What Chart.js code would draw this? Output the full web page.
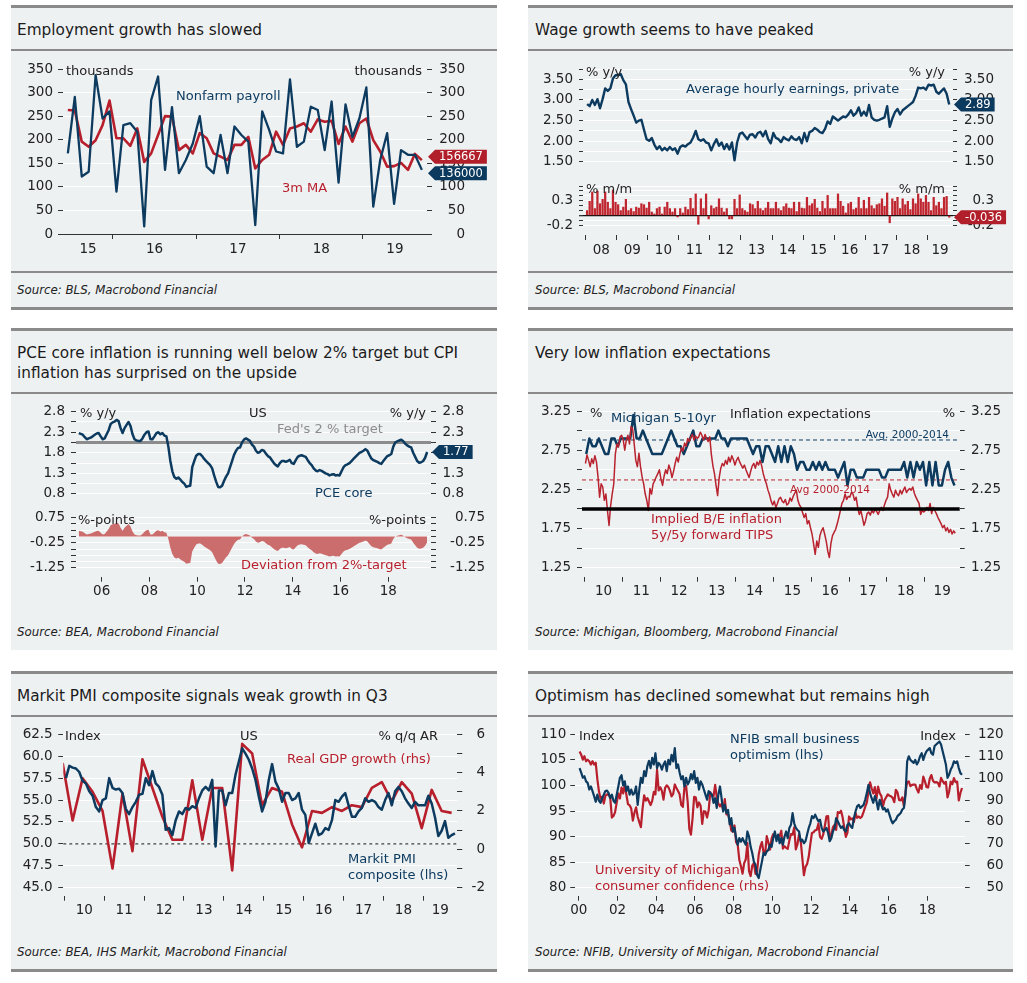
<!DOCTYPE html>
<html>
<head>
<meta charset="utf-8">
<script src="https://cdn.jsdelivr.net/npm/chart.js@4.4.0/dist/chart.umd.min.js"></script>
<style>
body { margin: 0; width: 1027px; height: 983px; background: #fff; position: relative; overflow: hidden; font-family: 'DejaVu Sans', sans-serif; }
.panel { position: absolute; background: #eef1f2; }
.rule { position: absolute; background: #8a8a8a; }
.title { position: absolute; font-size: 15.3px; line-height: 20px; color: #1b1b1b; }
.src { position: absolute; font-size: 11.8px; font-style: italic; color: #222; transform: translateY(-50%); }
canvas { position: absolute; z-index: 1; }
.note { position: absolute; z-index: 3; font-size: 13px; line-height: 15px; white-space: nowrap; transform: translateY(-50%); }
.note.r { transform: translate(-100%, -50%); }
</style>
</head>
<body>

<!-- panel backgrounds and rules -->
<div class="panel" style="left:11px;top:5px;width:486px;height:304px"></div>
<div class="panel" style="left:528px;top:5px;width:485px;height:304px"></div>
<div class="panel" style="left:11px;top:328px;width:486px;height:322px"></div>
<div class="panel" style="left:528px;top:328px;width:485px;height:322px"></div>
<div class="panel" style="left:11px;top:671px;width:486px;height:300px"></div>
<div class="panel" style="left:528px;top:671px;width:485px;height:300px"></div>

<div class="rule" style="left:11px;top:5px;width:486px;height:3px"></div>
<div class="rule" style="left:528px;top:5px;width:485px;height:3px"></div>
<div class="rule" style="left:11px;top:49px;width:486px;height:2px"></div>
<div class="rule" style="left:528px;top:49px;width:485px;height:2px"></div>
<div class="rule" style="left:11px;top:271px;width:486px;height:2px"></div>
<div class="rule" style="left:528px;top:271px;width:485px;height:2px"></div>
<div class="rule" style="left:11px;top:307px;width:486px;height:3px"></div>
<div class="rule" style="left:528px;top:307px;width:485px;height:3px"></div>

<div class="rule" style="left:11px;top:328px;width:486px;height:3px"></div>
<div class="rule" style="left:528px;top:328px;width:485px;height:3px"></div>
<div class="rule" style="left:11px;top:392px;width:486px;height:2px"></div>
<div class="rule" style="left:528px;top:392px;width:485px;height:2px"></div>

<div class="rule" style="left:11px;top:671px;width:486px;height:3px"></div>
<div class="rule" style="left:528px;top:671px;width:485px;height:3px"></div>
<div class="rule" style="left:11px;top:715px;width:486px;height:2px"></div>
<div class="rule" style="left:528px;top:715px;width:485px;height:2px"></div>
<div class="rule" style="left:11px;top:969px;width:486px;height:3px"></div>
<div class="rule" style="left:528px;top:969px;width:485px;height:3px"></div>

<div class="title" style="left:17px;top:20px">Employment growth has slowed</div>
<div class="title" style="left:535px;top:20px">Wage growth seems to have peaked</div>
<div class="title" style="left:17px;top:343px">PCE core inflation is running well below 2% target but CPI<br>inflation has surprised on the upside</div>
<div class="title" style="left:535px;top:343px">Very low inflation expectations</div>
<div class="title" style="left:17px;top:686px">Markit PMI composite signals weak growth in Q3</div>
<div class="title" style="left:535px;top:686px">Optimism has declined somewhat but remains high</div>

<div class="src" style="left:17px;top:290px">Source: BLS, Macrobond Financial</div>
<div class="src" style="left:535px;top:290px">Source: BLS, Macrobond Financial</div>
<div class="src" style="left:17px;top:632px">Source: BEA, Macrobond Financial</div>
<div class="src" style="left:535px;top:632px">Source: Michigan, Bloomberg, Macrobond Financial</div>
<div class="src" style="left:17px;top:952px">Source: BEA, IHS Markit, Macrobond Financial</div>
<div class="src" style="left:535px;top:952px">Source: NFIB, University of Michigan, Macrobond Financial</div>

<script>
// ---------- data ----------
// Nonfarm payrolls, thousands, monthly Jun 2015 - Sep 2019
const payrollStart = 2015 + 5 / 12;
const payrolls = [171, 291, 122, 132, 337, 245, 260,
  90, 231, 235, 217, 16, 284, 334, 136, 269, 129, 157, 192,
  250, 143, 129, 210, 129, 228, 210, 196, 19, 260, 221, 175,
  171, 328, 185, 196, 270, 263, 178, 281, 109, 275, 206, 245,
  311, 58, 157, 214, 64, 178, 168, 168, 136];
const payrolls3mMA = [263, 262, 196, 185, 199, 231, 283,
  203, 203, 187, 224, 153, 171, 210, 250, 249, 178, 189, 171,
  214, 203, 171, 164, 157, 189, 189, 206, 139, 157, 168, 217,
  189, 224, 228, 235, 217, 243, 238, 240, 191, 228, 196, 235,
  245, 199, 175, 143, 144, 151, 136, 170, 156.667];
const payrollTicks = [0, 50, 100, 150, 200, 250, 300, 350];

// Average hourly earnings, private, Jan 2008 - Sep 2019
const wageStart = 2008;
const wageYoY = [2.90, 2.85, 3.00, 2.88, 3.02, 2.80, 3.02, 3.28, 3.22, 3.28, 3.52, 3.60,
  3.60, 3.63, 3.48, 3.38, 2.95, 2.78, 2.62, 2.45, 2.50, 2.52, 2.28, 2.05,
  2.01, 2.08, 1.92, 1.81, 1.88, 1.78, 1.84, 1.78, 1.86, 1.79, 1.83, 1.70,
  1.86, 1.90, 1.87, 1.93, 1.97, 2.09, 2.25, 2.05, 2.01, 2.05, 1.97, 1.95,
  1.78, 1.93, 2.05, 1.89, 1.97, 1.81, 1.93, 1.80, 1.97, 1.54, 1.97, 2.18,
  2.21, 2.13, 2.05, 2.16, 2.17, 2.09, 2.20, 2.23, 2.12, 2.25, 2.05, 1.95,
  2.20, 2.08, 2.05, 1.98, 2.10, 2.05, 2.02, 2.12, 2.05, 2.03, 2.10, 1.95,
  2.20, 2.00, 2.22, 2.25, 2.32, 2.28, 2.22, 2.20, 2.30, 2.48, 2.42, 2.60,
  2.55, 2.50, 2.55, 2.60, 2.58, 2.65, 2.75, 2.62, 2.68, 2.82, 2.62, 2.72,
  2.62, 2.88, 2.58, 2.52, 2.50, 2.52, 2.55, 2.58, 2.85, 2.35, 2.55, 2.70,
  2.78, 2.65, 2.75, 2.80, 2.85, 2.90, 2.95, 3.10, 3.30, 3.28, 3.30, 3.25,
  3.37, 3.35, 3.37, 3.20, 3.15, 3.22, 3.28, 3.15, 2.89];
const wageMoM = [0.10, 0.29, 0.48, 0.14, 0.50, 0.24, 0.33, 0.48, 0.27, 0.14, 0.52, 0.27,
  0.22, 0.10, 0.17, 0.33, 0.10, 0.14, 0.08, 0.17, 0.15, 0.24, 0.22, 0.15,
  0.27, 0.07, 0.03, 0.14, 0.17, 0.03, 0.17, 0.27, 0.14, 0.07, 0.14, -0.03,
  0.14, 0.05, 0.17, 0.12, 0.35, 0.14, 0.44, -0.18, 0.34, 0.14, 0.44, -0.07,
  0.20, 0.14, 0.17, 0.34, 0.15, 0.07, 0.14, -0.07, -0.07, 0.33, 0.14, 0.42,
  0.14, 0.10, 0.07, 0.24, 0.22, 0.14, 0.29, 0.14, 0.10, 0.15, 0.27, 0.14,
  0.14, 0.27, 0.14, 0.10, 0.18, 0.24, 0.15, 0.14, 0.27, 0.08, 0.27, 0.15,
  0.14, 0.37, 0.20, 0.24, 0.33, 0.15, 0.08, 0.29, 0.14, 0.41, 0.14, 0.14,
  0.14, 0.44, 0.29, 0.19, 0.05, 0.24, 0.27, 0.12, 0.15, 0.37, 0.14, 0.31,
  0.14, 0.37, 0.20, 0.14, 0.22, 0.24, 0.34, 0.19, 0.46, -0.15, 0.34, 0.29,
  0.37, 0.14, 0.34, 0.22, 0.29, 0.12, 0.34, 0.24, 0.44, 0.34, 0.27, 0.41,
  0.27, 0.10, 0.37, 0.20, 0.27, 0.14, 0.37, 0.39, -0.036];
const wageTicks = [1.5, 1.75, 2, 2.25, 2.5, 2.75, 3, 3.25, 3.5, 3.75];
const wageLabels = [1.5, 2, 2.5, 3, 3.5];
const momTicks = [-0.2, -0.1, 0, 0.1, 0.2, 0.3, 0.4, 0.5, 0.6];
const momLabels = [-0.2, 0.3];

// PCE core, % y/y, Jan 2005 - Aug 2019
const pceStart = 2005;
const pceCore = [2.23, 2.21, 2.19, 2.13, 2.08, 2.10, 2.12, 2.15, 2.19, 2.22, 2.23, 2.15,
  2.08, 2.10, 2.20, 2.30, 2.45, 2.49, 2.51, 2.55, 2.52, 2.35, 2.23, 2.35,
  2.43, 2.50, 2.40, 2.20, 2.08, 2.05, 2.04, 2.04, 2.10, 2.19, 2.25, 2.27,
  2.08, 2.08, 2.15, 2.23, 2.25, 2.20, 2.23, 2.17, 2.15, 1.90, 1.55, 1.30,
  1.16, 1.12, 1.15, 1.10, 1.04, 1.00, 0.92, 0.94, 0.95, 1.40, 1.55, 1.68,
  1.72, 1.72, 1.67, 1.60, 1.55, 1.50, 1.45, 1.37, 1.20, 1.05, 0.92, 0.91,
  0.95, 1.07, 1.17, 1.25, 1.40, 1.55, 1.70, 1.80, 1.87, 1.88, 2.00, 2.07,
  2.10, 2.07, 2.04, 1.95, 1.90, 1.80, 1.75, 1.77, 1.82, 1.80, 1.73, 1.67,
  1.64, 1.57, 1.50, 1.45, 1.42, 1.50, 1.55, 1.55, 1.53, 1.55, 1.58, 1.50,
  1.48, 1.57, 1.65, 1.68, 1.69, 1.67, 1.65, 1.57, 1.50, 1.45, 1.37, 1.32,
  1.30, 1.33, 1.31, 1.28, 1.25, 1.23, 1.20, 1.22, 1.23, 1.20, 1.21, 1.20,
  1.30, 1.40, 1.45, 1.47, 1.50, 1.55, 1.60, 1.65, 1.70, 1.75, 1.77, 1.80,
  1.84, 1.80, 1.70, 1.61, 1.57, 1.55, 1.53, 1.50, 1.48, 1.55, 1.61, 1.67,
  1.69, 1.72, 1.90, 2.00, 2.03, 2.05, 2.07, 2.03, 1.97, 1.93, 1.90, 1.88,
  1.75, 1.65, 1.55, 1.51, 1.52, 1.55, 1.63, 1.77];
const fedTarget = 2;
const pceTicks = [0.75, 1, 1.25, 1.5, 1.75, 2, 2.25, 2.5, 2.75];
const pceLabels = [0.75, 1.25, 1.75, 2.25, 2.75];
const devTicks = [-1.25, -1, -0.75, -0.5, -0.25, 0, 0.25, 0.5, 0.75];
const devLabels = [-1.25, -0.25, 0.75];

// Michigan 5-10yr expectations, monthly Jan 2010 - Oct 2019
const inflStart = 2010;
const michigan5to10 = [2.7, 2.9, 2.8, 2.8, 2.9, 2.8, 2.7, 2.7, 2.9, 2.9, 2.8, 2.9,
  2.9, 2.9, 2.9, 3.2, 2.9, 2.9, 3.0, 2.9, 2.8, 2.7, 2.7, 2.7,
  2.7, 2.8, 2.9, 3.0, 2.9, 2.8, 2.8, 2.7, 2.8, 2.9, 3.0, 2.8,
  2.8, 2.9, 2.9, 2.9, 2.9, 2.9, 3.0, 2.9, 2.9, 2.8, 2.9, 2.9,
  2.9, 2.9, 2.9, 2.9, 2.8, 2.7, 2.8, 2.8, 2.6, 2.8, 2.8, 2.7,
  2.6, 2.8, 2.6, 2.8, 2.6, 2.8, 2.7, 2.5, 2.6, 2.6, 2.5, 2.5,
  2.6, 2.5, 2.6, 2.5, 2.6, 2.5, 2.5, 2.5, 2.4, 2.5, 2.6, 2.3,
  2.5, 2.5, 2.4, 2.4, 2.4, 2.5, 2.5, 2.5, 2.5, 2.5, 2.4, 2.4,
  2.5, 2.5, 2.5, 2.5, 2.5, 2.6, 2.4, 2.6, 2.4, 2.6, 2.5, 2.6,
  2.3, 2.6, 2.3, 2.6, 2.3, 2.3, 2.5, 2.6, 2.4, 2.3];
// 5y/5y forward breakeven, twice a month Jan 2010 - Oct 2019
const breakeven5y5y = [2.58, 2.69, 2.62, 2.54, 2.64, 2.58, 2.68, 2.60, 2.41, 2.15, 2.32, 2.28, 2.11, 2.19, 1.98, 1.79, 2.04, 2.19, 2.32, 2.70, 2.83, 2.79, 2.92, 2.94,
  2.88, 2.75, 2.88, 2.94, 2.83, 3.05, 3.02, 2.83, 2.62, 2.54, 2.71, 2.54, 2.41, 2.32, 2.19, 2.11, 1.98, 2.26, 2.19, 2.32, 2.36, 2.41, 2.45, 2.50,
  2.38, 2.30, 2.42, 2.50, 2.45, 2.56, 2.50, 2.40, 2.48, 2.58, 2.66, 2.60, 2.70, 2.78, 2.74, 2.84, 2.80, 2.90, 2.86, 2.92, 2.95, 2.88, 2.93, 2.90,
  2.92, 2.98, 2.94, 2.88, 2.95, 2.90, 2.86, 2.92, 2.70, 2.55, 2.45, 2.30, 2.17, 2.40, 2.52, 2.58, 2.55, 2.62, 2.57, 2.66, 2.60, 2.68, 2.63, 2.56,
  2.62, 2.66, 2.60, 2.56, 2.52, 2.56, 2.50, 2.45, 2.40, 2.48, 2.55, 2.58, 2.52, 2.60, 2.56, 2.62, 2.55, 2.45, 2.38, 2.32, 2.24, 2.18, 2.10, 2.05,
  2.10, 2.02, 2.07, 2.13, 2.15, 2.10, 2.08, 2.12, 2.05, 2.07, 2.14, 2.10, 2.16, 2.20, 2.24, 2.11, 2.05, 2.02, 1.95, 1.89, 1.94, 1.81, 1.85, 1.76,
  1.68, 1.55, 1.42, 1.59, 1.51, 1.66, 1.72, 1.76, 1.68, 1.59, 1.46, 1.38, 1.56, 1.66, 1.70, 1.74, 1.81, 1.89, 1.98, 2.07, 2.11, 2.19, 2.12, 2.16,
  2.15, 2.21, 2.19, 2.11, 2.15, 2.02, 1.93, 1.98, 1.89, 1.79, 1.85, 1.94, 1.96, 1.92, 1.98, 1.95, 1.99, 1.97, 1.93, 1.98, 2.02, 1.98, 2.05, 2.11,
  2.15, 2.32, 2.24, 2.19, 2.15, 2.24, 2.19, 2.17, 2.24, 2.19, 2.24, 2.28, 2.21, 2.24, 2.26, 2.24, 2.28, 2.20, 2.15, 2.11, 2.07, 1.93, 1.98, 1.96,
  1.98, 2.02, 1.98, 2.07, 1.94, 2.02, 1.98, 1.94, 1.89, 1.85, 1.81, 1.76, 1.79, 1.72, 1.76, 1.70, 1.74, 1.68, 1.72, 1.69];
const michiganAvg = 2.88;
const breakevenAvg = 2.37;
const inflTicks = [1.25, 1.5, 1.75, 2, 2.25, 2.5, 2.75, 3, 3.25];
const inflLabels = [1.25, 1.75, 2.25, 2.75, 3.25];

// Markit PMI composite, monthly Jan 2010 - Oct 2019; real GDP q/q AR, Q4 2009 - Q3 2019
const pmiStart = 2010;
const pmiComposite = [57.5, 58.9, 58.7, 58.6, 58.2, 57.2, 56.9, 56.0, 55.5, 54.2, 53.7, 55.0,
  55.2, 57.5, 56.4, 56.2, 56.3, 55.8, 54.0, 53.4, 54.2, 54.8, 55.6, 55.7,
  57.5, 56.7, 58.3, 56.9, 56.5, 55.6, 51.6, 51.8, 51.0, 52.7, 53.7, 53.4,
  54.1, 53.9, 54.3, 54.1, 55.2, 56.1, 56.5, 56.1, 57.3, 49.7, 56.1, 56.1,
  54.4, 55.8, 55.8, 57.9, 59.4, 60.9, 60.3, 59.6, 58.6, 57.3, 55.4, 53.7,
  54.8, 57.3, 59.1, 57.1, 56.3, 54.8, 55.8, 55.8, 55.0, 55.2, 55.8, 53.9,
  53.3, 50.1, 51.2, 52.3, 51.0, 51.2, 51.8, 51.6, 52.7, 55.0, 54.8, 55.4,
  55.8, 54.4, 53.1, 53.1, 53.7, 54.1, 55.2, 54.8, 55.0, 54.8, 54.2, 53.9,
  55.0, 55.8, 54.4, 56.0, 56.5, 56.0, 55.2, 54.6, 54.1, 54.8, 54.4, 54.4,
  54.4, 55.5, 54.6, 53.0, 50.9, 51.5, 52.6, 50.7, 51.0, 51.2];
const gdpStart = 2009 + 11.5 / 12;
const gdpGrowth = [4.5, 1.5, 3.7, 3.0, 2.0, -1.0, 2.9, -0.1, 4.7, 3.2, 1.7, 0.5, 0.5,
  3.6, 0.5, 3.2, 3.2, -1.1, 5.5, 5.0, 2.3, 3.2, 3.0, 1.3, 0.1, 2.0, 1.9, 2.2, 2.0,
  2.3, 2.2, 3.2, 3.5, 2.5, 3.5, 2.9, 1.1, 3.1, 2.0, 1.9];
const pmiNeutral = 50;
const pmiTicks = [45, 47.5, 50, 52.5, 55, 57.5, 60, 62.5];
const gdpTicks = [-2, -1, 0, 1, 2, 3, 4, 5, 6];
const gdpLabels = [-2, 0, 2, 4, 6];

// NFIB small business optimism and UMich sentiment, monthly Jan 2000 - Oct 2019
const optStart = 2000;
const nfib = [103.4, 102.5, 101.5, 101.8, 100.8, 100.5, 99.2, 99.8, 98.9, 97.9, 96.8, 98.2,
  97.0, 96.6, 97.5, 98.2, 98.9, 99.0, 98.5, 97.5, 98.2, 97.0, 96.6, 98.2,
  99.8, 101.5, 102.0, 100.0, 100.8, 98.9, 99.8, 98.2, 99.2, 98.2, 98.5, 99.8,
  96.2, 99.2, 101.5, 100.5, 102.8, 101.8, 103.8, 104.8, 103.4, 105.4, 104.1, 106.3,
  103.4, 104.4, 104.0, 103.1, 104.1, 104.7, 102.8, 105.0, 104.1, 106.0, 104.7, 107.3,
  103.4, 104.1, 102.5, 101.2, 101.8, 99.8, 101.5, 100.2, 100.8, 102.2, 101.2, 102.8,
  100.5, 101.5, 99.2, 100.8, 100.2, 99.2, 98.2, 97.2, 98.9, 98.5, 98.2, 96.6,
  97.5, 95.6, 98.2, 99.8, 97.5, 94.9, 96.2, 94.6, 95.2, 92.4, 93.6, 91.0,
  91.7, 89.7, 88.4, 89.7, 89.0, 89.7, 89.0, 88.4, 91.0, 90.0, 88.0, 86.8,
  85.1, 84.5, 82.5, 81.9, 83.5, 85.1, 86.8, 86.4, 87.1, 87.4, 88.4, 88.0,
  89.7, 91.0, 89.1, 90.4, 88.7, 89.7, 88.4, 90.0, 91.0, 89.7, 91.7, 92.3,
  94.6, 92.6, 91.7, 91.3, 91.0, 89.1, 89.4, 88.7, 89.1, 90.4, 91.7, 92.6,
  94.0, 93.6, 94.3, 93.6, 93.0, 93.3, 91.7, 91.0, 91.3, 91.7, 90.7, 89.1,
  89.7, 91.0, 91.7, 93.6, 93.0, 92.3, 91.7, 92.0, 91.3, 91.0, 92.3, 92.6,
  92.0, 91.7, 93.6, 94.9, 95.9, 96.2, 95.6, 95.9, 96.2, 97.2, 98.5, 100.1,
  98.5, 97.5, 96.6, 97.9, 96.9, 95.3, 97.2, 96.2, 95.3, 95.6, 94.9, 95.3,
  94.3, 93.3, 92.6, 93.0, 93.3, 94.0, 94.3, 94.6, 95.3, 95.6, 98.2, 104.7,
  105.7, 105.0, 104.7, 104.4, 105.0, 104.1, 104.7, 105.7, 106.3, 105.0, 106.0, 106.7,
  107.0, 107.3, 106.3, 106.0, 107.7, 108.0, 108.3, 108.6, 108.0, 106.7, 105.4, 104.1,
  101.5, 102.1, 103.1, 103.7, 104.7, 104.4, 104.7, 103.4, 102.4, 102.1];
const umich = [112.2, 110.7, 108.4, 110.0, 107.7, 108.4, 107.7, 106.2, 107.7, 106.2, 107.0, 99.5,
  94.0, 90.6, 91.5, 88.4, 92.0, 92.6, 92.4, 91.0, 82.0, 82.7, 84.5, 88.8,
  93.0, 90.7, 95.7, 93.0, 96.9, 92.4, 88.1, 87.6, 86.1, 80.6, 84.2, 86.7,
  82.4, 79.9, 77.6, 86.0, 92.1, 89.7, 90.9, 89.3, 87.7, 89.6, 93.7, 92.6,
  103.8, 94.4, 95.8, 94.2, 90.2, 95.6, 96.7, 95.9, 94.2, 91.7, 92.8, 97.1,
  95.5, 94.1, 92.6, 87.7, 86.9, 96.0, 96.5, 89.1, 76.9, 74.2, 81.6, 91.5,
  91.2, 86.7, 88.9, 87.4, 79.1, 84.9, 84.7, 82.0, 85.4, 93.6, 92.1, 91.7,
  96.9, 91.3, 88.4, 87.1, 88.3, 85.3, 90.4, 83.4, 83.4, 80.9, 76.1, 75.5,
  78.4, 70.8, 69.5, 62.6, 59.8, 56.4, 61.2, 63.0, 70.3, 57.6, 55.3, 60.1,
  61.2, 56.3, 57.3, 65.1, 68.7, 70.8, 66.0, 65.7, 73.5, 70.6, 67.4, 72.5,
  74.4, 73.6, 73.6, 72.2, 73.6, 76.0, 67.8, 68.9, 68.2, 67.7, 71.6, 74.5,
  74.2, 77.5, 67.5, 69.8, 74.3, 71.5, 63.7, 55.7, 59.5, 60.8, 64.1, 69.9,
  75.0, 75.3, 76.2, 76.4, 79.3, 73.2, 72.3, 74.3, 78.3, 82.6, 82.7, 72.9,
  73.8, 77.6, 78.6, 76.4, 84.5, 84.1, 85.1, 82.1, 77.5, 73.2, 75.1, 82.5,
  81.2, 81.6, 80.0, 84.1, 81.9, 82.5, 81.8, 82.5, 84.6, 86.9, 88.8, 93.6,
  98.1, 95.4, 93.0, 95.9, 90.7, 96.1, 93.1, 91.9, 87.2, 90.0, 91.3, 92.6,
  92.0, 91.7, 91.0, 89.0, 94.7, 93.5, 90.0, 89.8, 91.2, 87.2, 93.8, 98.2,
  98.5, 96.3, 96.9, 97.0, 97.1, 95.0, 93.4, 96.8, 95.1, 100.7, 98.5, 95.9,
  95.7, 99.7, 101.4, 98.8, 98.0, 98.2, 97.9, 96.2, 100.1, 98.6, 97.5, 98.3,
  91.2, 93.8, 98.4, 97.2, 100.0, 98.2, 98.4, 89.8, 93.2, 95.5];
const nfibTicks = [80, 85, 90, 95, 100, 105, 110];
const umichTicks = [50, 60, 70, 80, 90, 100, 110, 120];

// ---------- helpers ----------
const BLUE = '#0d3b60', RED = '#b71f2c', INK = '#222';

Chart.defaults.font.family = "'DejaVu Sans', sans-serif";
Chart.defaults.font.size = 13.5;
Chart.defaults.color = INK;
Chart.defaults.animation = false;
Chart.defaults.responsive = false;
Chart.defaults.plugins.legend.display = false;
Chart.defaults.plugins.tooltip.enabled = false;
Chart.defaults.elements.point.radius = 0;
Chart.defaults.elements.line.tension = 0;
Chart.defaults.elements.line.borderJoinStyle = 'round';

const monthly = (start, vals) => vals.map((v, i) => ({ x: start + (i + 0.5) / 12, y: v }));
const halfMonthly = (start, vals) => vals.map((v, i) => ({ x: start + (i + 0.5) / 24, y: v }));
const quarterly = (start, vals) => vals.map((v, i) => ({ x: start + i * 0.25, y: v }));
const labelled = (list, dec) => v => (list.includes(v) ? v.toFixed(dec) : '');

function makeCanvas(x, y, w, h) {
  const c = document.createElement('canvas');
  c.width = w; c.height = h;
  c.style.left = x + 'px'; c.style.top = y + 'px';
  document.body.appendChild(c);
  return c;
}

// year ticks: marks at year boundaries, labels centred on the visible part of each year
function yearTicks(min, max, mode) {
  const out = [];
  if (mode === 'even') {
    for (let y = Math.ceil(min); y <= max; y++) {
      if (y % 2 === 0) out.push({ value: y, mark: true, lab: String(y).slice(2) });
    }
    return out;
  }
  for (let y = Math.ceil(min); y <= max; y++) out.push({ value: y, mark: true, lab: '' });
  for (let y = Math.floor(min); y < max; y++) {
    const a = Math.max(y, min), b = Math.min(y + 1, max);
    if (b - a >= 0.4) out.push({ value: (a + b) / 2, mark: false, lab: String(y).slice(2) });
  }
  return out.sort((p, q) => p.value - q.value);
}

function xAxis(min, max, mode, height, border) {
  return {
    type: 'linear', min, max, offset: false,
    afterFit: s => { s.height = height; },
    afterBuildTicks: s => { s.ticks = yearTicks(min, max, mode); },
    border: border || { display: false },
    grid: {
      offset: false, drawOnChartArea: false, drawTicks: true, tickLength: 5,
      tickColor: c => (c.tick && c.tick.mark ? '#333' : 'rgba(0,0,0,0)')
    },
    ticks: { padding: 2, autoSkip: false, maxRotation: 0, callback: (v, i, t) => t[i].lab || '' }
  };
}

// right axes: labels are right-aligned to the outer edge of the axis box
function yAxis(o) {
  return {
    type: 'linear', position: o.pos || 'left', min: o.min, max: o.max,
    afterFit: s => { s.width = o.w; },
    afterBuildTicks: s => { s.ticks = o.ticks.map(v => ({ value: v })); },
    border: { display: false },
    grid: {
      drawOnChartArea: o.pos !== 'right', drawTicks: true, tickLength: o.tl || 5, tickColor: '#333',
      color: c => (o.gridColor ? o.gridColor(c.tick ? c.tick.value : null) : '#fff'),
      lineWidth: c => (o.zeroWidth && c.tick && c.tick.value === 0 ? o.zeroWidth : 1)
    },
    ticks: { padding: o.pad || 5, crossAlign: o.pos === 'right' ? 'far' : 'near', autoSkip: false, callback: o.fmt }
  };
}

function refLines(lines) {
  const draw = (chart, list) => {
    const ctx = chart.ctx, a = chart.chartArea;
    list.forEach(l => {
      const y = chart.scales[l.axis || 'y'].getPixelForValue(l.value);
      ctx.save();
      ctx.strokeStyle = l.color; ctx.lineWidth = l.width; ctx.setLineDash(l.dash || []);
      ctx.beginPath(); ctx.moveTo(a.left, y); ctx.lineTo(a.right, y); ctx.stroke();
      ctx.restore();
    });
  };
  return {
    id: 'refLines',
    beforeDatasetsDraw(chart) { draw(chart, lines.filter(l => !l.top)); },
    afterDatasetsDraw(chart) { draw(chart, lines.filter(l => l.top)); }
  };
}

// value tags at the right end of a series
function tags(list) {
  return {
    id: 'tags',
    afterDraw(chart) {
      const ctx = chart.ctx, area = chart.chartArea;
      const items = list.map(t => {
        const meta = chart.getDatasetMeta(t.ds);
        return { y: meta.data[meta.data.length - 1].y, t };
      });
      if (items.length === 2) {
        const gap = 16.5, d = Math.abs(items[0].y - items[1].y);
        if (d < gap) {
          const hi = items[0].y <= items[1].y ? 0 : 1, push = (gap - d) / 2;
          items[hi].y -= push; items[1 - hi].y += push;
        }
      }
      ctx.save();
      ctx.font = "11.5px 'DejaVu Sans'";
      items.forEach(({ y, t }) => {
        const tip = area.right + 1, x0 = tip + 7, h = 14;
        const w = ctx.measureText(t.text).width + 8;
        ctx.fillStyle = t.color;
        ctx.beginPath();
        ctx.moveTo(tip, y); ctx.lineTo(x0, y - h / 2); ctx.lineTo(x0 + w, y - h / 2);
        ctx.lineTo(x0 + w, y + h / 2); ctx.lineTo(x0, y + h / 2); ctx.closePath();
        ctx.fill();
        ctx.fillStyle = '#fff'; ctx.textAlign = 'left'; ctx.textBaseline = 'middle';
        ctx.fillText(t.text, x0 + 4, y + 0.5);
      });
      ctx.restore();
    }
  };
}

// ---------- 1. Employment ----------
new Chart(makeCanvas(11, 50, 486, 220), {
  type: 'line',
  data: { datasets: [
    { data: monthly(payrollStart, payrolls), borderColor: BLUE, borderWidth: 2.3 },
    { data: monthly(payrollStart, payrolls3mMA), borderColor: RED, borderWidth: 2.6 }
  ] },
  options: {
    layout: { padding: { top: 19, bottom: 0, left: 0, right: 32 } },
    scales: {
      x: xAxis(2015.40, 2019.77, 'mid', 36, { display: true, dash: [3, 2], color: '#333', width: 1 }),
      y: yAxis({ min: 0, max: 350, ticks: payrollTicks, fmt: v => String(v), w: 52, pad: 5,
        gridColor: v => (v === 0 ? 'rgba(0,0,0,0)' : '#fff') }),
      y2: yAxis({ pos: 'right', min: 0, max: 350, ticks: payrollTicks, fmt: v => String(v), w: 38 })
    }
  },
  plugins: [tags([
    { ds: 1, color: '#b01f2a', text: String(Math.round(payrolls3mMA[payrolls3mMA.length - 1] * 1000)) },
    { ds: 0, color: '#0b3a5e', text: String(Math.round(payrolls[payrolls.length - 1] * 1000)) }
  ])]
});

// ---------- 2. Wages ----------
new Chart(makeCanvas(528, 52, 485, 124), {
  type: 'line',
  data: { datasets: [{ data: monthly(wageStart, wageYoY), borderColor: BLUE, borderWidth: 2.4 }] },
  options: {
    layout: { padding: { top: 17, bottom: 12, left: 0, right: 19 } },
    scales: {
      x: { type: 'linear', min: 2007.91, max: 2019.83, display: false, offset: false },
      y: yAxis({ min: 1.5, max: 3.75, ticks: wageTicks, fmt: labelled(wageLabels, 2), w: 55, pad: 6, tl: 4 }),
      y2: yAxis({ pos: 'right', min: 1.5, max: 3.75, ticks: wageTicks, fmt: labelled(wageLabels, 2), w: 41, tl: 4 })
    }
  },
  plugins: [tags([{ ds: 0, color: '#0b3a5e', text: wageYoY[wageYoY.length - 1].toFixed(2) }])]
});

new Chart(makeCanvas(528, 172, 485, 96), {
  type: 'bar',
  data: { datasets: [{ data: monthly(wageStart, wageMoM), backgroundColor: '#c0262f', barThickness: 1.6 }] },
  options: {
    layout: { padding: { top: 14, bottom: 0, left: 0, right: 19 } },
    scales: {
      x: xAxis(2007.91, 2019.83, 'mid', 33),
      y: yAxis({ min: -0.4, max: 0.6, ticks: momTicks, fmt: labelled(momLabels, 1), w: 55, pad: 6, tl: 4,
        gridColor: v => (v === 0 ? '#111' : '#fff'), zeroWidth: 1.3 }),
      y2: yAxis({ pos: 'right', min: -0.4, max: 0.6, ticks: momTicks, fmt: labelled(momLabels, 1), w: 41, tl: 4 })
    }
  },
  plugins: [tags([{ ds: 0, color: '#b01f2a', text: wageMoM[wageMoM.length - 1].toFixed(3) }])]
});

// ---------- 3. PCE core ----------
const deviation = pceCore.map(v => +(v - fedTarget).toFixed(2));

new Chart(makeCanvas(11, 396, 486, 112), {
  type: 'line',
  data: { datasets: [{ data: monthly(pceStart, pceCore), borderColor: BLUE, borderWidth: 2.5 }] },
  options: {
    layout: { padding: { top: 15.7, bottom: 12.3, left: 0, right: 33 } },
    scales: {
      x: { type: 'linear', min: 2004.925, max: 2019.787, display: false, offset: false },
      y: yAxis({ min: 0.75, max: 2.75, ticks: pceTicks, fmt: labelled(pceLabels, 1), w: 65, pad: 6 }),
      y2: yAxis({ pos: 'right', min: 0.75, max: 2.75, ticks: pceTicks, fmt: labelled(pceLabels, 1), w: 33 })
    }
  },
  plugins: [
    refLines([{ value: fedTarget, color: '#8c8c8c', width: 3 }]),
    tags([{ ds: 0, color: '#0b3a5e', text: pceCore[pceCore.length - 1].toFixed(2) }])
  ]
});

new Chart(makeCanvas(11, 502, 486, 104), {
  type: 'line',
  data: { datasets: [{ data: monthly(pceStart, deviation), borderColor: 'rgba(0,0,0,0)', borderWidth: 0,
    fill: 'origin', backgroundColor: '#cc6d6d' }] },
  options: {
    layout: { padding: { top: 15.7, bottom: 0, left: 0, right: 12 } },
    scales: {
      x: xAxis(2004.925, 2019.787, 'even', 29.3),
      y: yAxis({ min: -1.6, max: 0.75, ticks: devTicks, fmt: labelled(devLabels, 2), w: 65, pad: 6 }),
      y2: yAxis({ pos: 'right', min: -1.6, max: 0.75, ticks: devTicks, fmt: labelled(devLabels, 2), w: 54 })
    }
  }
});

// ---------- 4. Inflation expectations ----------
new Chart(makeCanvas(528, 396, 485, 210), {
  type: 'line',
  data: { datasets: [
    { data: halfMonthly(inflStart, breakeven5y5y), borderColor: '#b8232f', borderWidth: 1.5 },
    { data: monthly(inflStart, michigan5to10), borderColor: BLUE, borderWidth: 2.5 }
  ] },
  options: {
    layout: { padding: { top: 15, bottom: 0, left: 0, right: 12 } },
    scales: {
      x: xAxis(2009.93, 2019.93, 'mid', 29.3),
      y: yAxis({ min: 1.135, max: 3.25, ticks: inflTicks, fmt: labelled(inflLabels, 2), w: 54, pad: 6 }),
      y2: yAxis({ pos: 'right', min: 1.135, max: 3.25, ticks: inflTicks, fmt: labelled(inflLabels, 2), w: 41.3 })
    }
  },
  plugins: [refLines([
    { value: michiganAvg, color: BLUE, width: 1, dash: [4, 3] },
    { value: breakevenAvg, color: '#b8232f', width: 1, dash: [4, 3] },
    { value: fedTarget, color: '#000', width: 3.5, top: true }
  ])]
});

// ---------- 5. PMI and GDP ----------
new Chart(makeCanvas(11, 718, 486, 206), {
  type: 'line',
  data: { datasets: [
    { data: monthly(pmiStart, pmiComposite), borderColor: BLUE, borderWidth: 2.5, yAxisID: 'y' },
    { data: quarterly(gdpStart, gdpGrowth), borderColor: RED, borderWidth: 2.6, yAxisID: 'y2' }
  ] },
  options: {
    layout: { padding: { top: 16.3, bottom: 0, left: 0, right: 12 } },
    scales: {
      x: xAxis(2009.975, 2019.85, 'mid', 28.3),
      y: yAxis({ min: 44.09, max: 62.5, ticks: pmiTicks, fmt: v => v.toFixed(1), w: 52.3, pad: 5.6 }),
      y2: yAxis({ pos: 'right', min: -2.42, max: 6, ticks: gdpTicks, fmt: labelled(gdpLabels, 0), w: 27.7 })
    }
  },
  plugins: [refLines([{ value: pmiNeutral, color: '#111', width: 1, dash: [3, 3] }])]
});

// ---------- 6. Optimism ----------
new Chart(makeCanvas(528, 718, 485, 206), {
  type: 'line',
  data: { datasets: [
    { data: monthly(optStart, nfib), borderColor: BLUE, borderWidth: 2.2, yAxisID: 'y' },
    { data: monthly(optStart, umich), borderColor: RED, borderWidth: 2.2, yAxisID: 'y2' }
  ] },
  options: {
    layout: { padding: { top: 16.3, bottom: 0, left: 0, right: 9.3 } },
    scales: {
      x: xAxis(1999.82, 2019.93, 'even', 28.3),
      y: yAxis({ min: 78.44, max: 110, ticks: nfibTicks, fmt: v => String(v), w: 47.3, pad: 4 }),
      y2: yAxis({ pos: 'right', min: 46.35, max: 120, ticks: umichTicks, fmt: v => String(v), w: 39 })
    }
  }
});

// ---------- in-chart labels ----------
const notes = [
  // [x, y, text, colour, align, size]
  [66, 70, 'thousands'], [422, 70, 'thousands', INK, 'r'],
  [176, 95, 'Nonfarm payroll', BLUE], [282, 187, '3m MA', RED],

  [586, 71, '% y/y'], [945, 71, '% y/y', INK, 'r'],
  [686, 87.5, 'Average hourly earnings, private', BLUE],
  [586, 187.5, '% m/m'], [945, 187.5, '% m/m', INK, 'r'],

  [80, 412, '% y/y'], [249, 412, 'US'], [426, 412, '% y/y', INK, 'r'],
  [277, 428, "Fed's 2 % target", '#8c8c8c'], [315, 492, 'PCE core', BLUE],
  [78, 519, '%-points'], [426, 519, '%-points', INK, 'r'],
  [241, 564, 'Deviation from 2%-target', RED],

  [590, 412, '%'], [611, 417, 'Michigan 5-10yr', BLUE], [730, 413, 'Inflation expectations'],
  [955, 412, '%', INK, 'r'],
  [949, 434, 'Avg. 2000-2014', BLUE, 'r', 10.5], [790, 489, 'Avg 2000-2014', RED, 'l', 10.5],
  [651, 518, 'Implied B/E inflation', RED], [651, 534, '5y/5y forward TIPS', RED],

  [65, 735, 'Index'], [240, 735, 'US'], [438, 735, '% q/q AR', INK, 'r'],
  [287, 758, 'Real GDP growth (rhs)', RED],
  [348, 858, 'Markit PMI', BLUE], [348, 873.5, 'composite (lhs)', BLUE],

  [579, 735, 'Index'], [956, 735, 'Index', INK, 'r'],
  [730, 738, 'NFIB small business', BLUE], [730, 753.5, 'optimism (lhs)', BLUE],
  [595, 868.5, 'University of Michigan', RED], [595, 884.5, 'consumer confidence (rhs)', RED]
];
notes.forEach(([x, y, text, colour, align, size]) => {
  const d = document.createElement('div');
  d.className = 'note' + (align === 'r' ? ' r' : '');
  d.style.left = x + 'px';
  d.style.top = y + 'px';
  d.style.color = colour || INK;
  if (size) d.style.fontSize = size + 'px';
  d.textContent = text;
  document.body.appendChild(d);
});
</script>
</body>
</html>
